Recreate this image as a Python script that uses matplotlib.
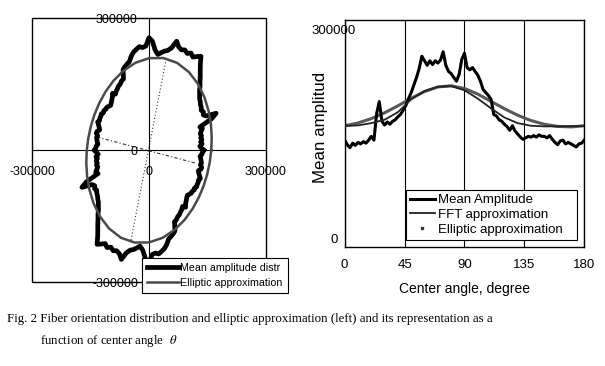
import numpy as np
import matplotlib
matplotlib.use('Agg')
import matplotlib.pyplot as plt
from matplotlib.lines import Line2D
from matplotlib.transforms import Bbox, TransformedBbox

plt.rcParams['font.family'] = 'Liberation Sans'
plt.rcParams['mathtext.fontset'] = 'stix'

# Mean amplitude, read every 2 degrees (0..180)
angle_deg = np.arange(0, 181, 2)
mean_amp = [141000, 135000, 131000, 137000, 134000, 138000, 136000, 139000, 137000, 141000,
            146000, 141000, 176000, 192000, 166000, 161000, 165000, 162000, 166000, 168000,
            172000, 175000, 181000, 187000, 196000, 204000, 214000, 224000, 236000, 252000,
            246000, 240000, 246000, 241000, 246000, 243000, 247000, 258000, 240000, 232000,
            229000, 224000, 219000, 228000, 248000, 256000, 237000, 234000, 237000, 232000,
            227000, 219000, 208000, 204000, 200000, 195000, 175000, 173000, 168000, 166000,
            162000, 159000, 154000, 160000, 153000, 149000, 145000, 142000, 144000, 146000,
            145000, 147000, 145000, 148000, 146000, 146000, 144000, 147000, 142000, 138000,
            135000, 140000, 141000, 136000, 138000, 136000, 134000, 132000, 136000, 137000,
            141000]

# smooth approximations, read every 10 degrees
fit_deg = np.arange(0, 181, 10)
fft_amp = [159700, 160500, 163500, 168000, 178000, 195000, 206000, 211500, 212500, 207000,
           196000, 183000, 171000, 163500, 160000, 159200, 159200, 159500, 159700]
ellipse_amp = [160000, 163700, 169500, 177200, 186400, 196300, 205300, 211400, 212900, 209400,
               201900, 192300, 182600, 173900, 166900, 162000, 159200, 158500, 160000]

# ellipse axes drawn as dotted lines on the polar view
major_x = [-46300, 44300]
major_y = [-204000, 208300]
minor_x = [-133700, 120800]
minor_y = [30200, -29500]

polar_ticks = [-300000, 0, 300000]
polar_labels = ['-300000', '0', '300000']
angle_ticks = [0, 45, 90, 135, 180]

fig = plt.figure(figsize=(6.05, 3.66), dpi=100)

# ---- left: polar distribution drawn in x/y ----
ax1 = fig.add_axes([0.0534, 0.2287, 0.3858, 0.7213])
th = np.radians(np.concatenate([angle_deg, angle_deg[1:] + 180]))
r = np.concatenate([mean_amp, mean_amp[1:]])
ax1.plot(r * np.cos(th), r * np.sin(th), color='black', lw=3.4,
         label='Mean amplitude distr', zorder=3)
th_e = np.radians(np.concatenate([fit_deg, fit_deg[1:] + 180]))
r_e = np.concatenate([ellipse_amp, ellipse_amp[1:]])
ax1.plot(r_e * np.cos(th_e), r_e * np.sin(th_e), color='#4a4a4a', lw=1.8,
         label='Elliptic approximation', zorder=4)
ax1.plot(major_x, major_y, color='#333333', lw=0.8, ls=(0, (1, 2)), zorder=2)
ax1.plot(minor_x, minor_y, color='#333333', lw=0.8, ls=(0, (3, 2, 1, 2)), zorder=2)
ax1.set_xlim(-300000, 300000)
ax1.set_ylim(-300000, 300000)
ax1.spines['left'].set_position('zero')
ax1.spines['bottom'].set_position('zero')
ax1.spines['top'].set_visible(False)
ax1.spines['right'].set_visible(False)
ax1.patch.set_edgecolor('black')
ax1.patch.set_linewidth(1.0)
ax1.set_xticks(polar_ticks)
ax1.set_xticklabels(polar_labels)
ax1.set_yticks(polar_ticks)
ax1.set_yticklabels(polar_labels)
ax1.tick_params(axis='x', length=0, pad=11, labelsize=9)
ax1.tick_params(axis='y', length=0, pad=8, labelsize=9)
leg1 = ax1.legend(loc='upper left', bbox_to_anchor=(0.2342, 0.194, 0.2423, 0.1003),
                  bbox_transform=fig.transFigure, mode='expand', borderaxespad=0,
                  fancybox=False, edgecolor='black', framealpha=1, fontsize=7.7,
                  handlelength=3.0, handletextpad=0.1, labelspacing=0.45, borderpad=0.45)
leg1.get_frame().set_linewidth(0.8)

# ---- right: amplitude vs center angle ----
ax2 = fig.add_axes([0.5697, 0.3260, 0.396, 0.6194])
ax2.plot(angle_deg, mean_amp, color='black', lw=2.2, zorder=3)
ax2.plot(fit_deg, fft_amp, color='#222222', lw=1.3, zorder=4)
ax2.plot(fit_deg, ellipse_amp, color='#585858', lw=2.2, zorder=2)
ax2.set_xlim(0, 180)
ax2.set_ylim(0, 300000)
ax2.set_xticks(angle_ticks)
ax2.set_yticks([])
ax2.grid(axis='x', color='black', lw=0.8)
ax2.tick_params(axis='x', length=0, pad=9, labelsize=9.5)
for sp in ax2.spines.values():
    sp.set_linewidth(1.0)
ax2.annotate('300000', xy=(0, 300000), xycoords=('axes fraction', 'data'),
             xytext=(-7.7, -7.9), textcoords='offset points', ha='center', va='center', fontsize=9.5)
ax2.annotate('0', xy=(0, 0), xycoords=('axes fraction', 'data'),
             xytext=(-7.7, 4.8), textcoords='offset points', ha='center', va='center', fontsize=9.5)
ax2.set_xlabel('Center angle, degree', fontsize=10, labelpad=8)

# y title is cut off at the top in the original
ylab = fig.text(320 / 605, 1 - 183 / 366, 'Mean amplitude', rotation=90,
                ha='center', va='bottom', fontsize=12.2, clip_on=True)
ylab.set_clip_box(TransformedBbox(Bbox([[0, 0], [1, 1 - 72 / 366]]), fig.transFigure))

handles = [Line2D([], [], color='black', lw=2.2),
           Line2D([], [], color='#222222', lw=1.3),
           Line2D([], [], color='#333333', ls='none', marker='s', ms=2)]
leg2 = ax2.legend(handles, ['Mean Amplitude', 'FFT approximation', 'Elliptic approximation'],
                  loc='upper left', bbox_to_anchor=(0.671, 0.3388, 0.2826, 0.142),
                  bbox_transform=fig.transFigure, mode='expand', borderaxespad=0,
                  fancybox=False, edgecolor='black', framealpha=1, fontsize=9.5,
                  handlelength=1.9, handletextpad=0.2, labelspacing=0.2, borderpad=0.3)
leg2.get_frame().set_linewidth(0.8)

# ---- caption ----
fig.text(7 / 605, 1 - 319 / 366,
         'Fig. 2 Fiber orientation distribution and elliptic approximation (left) and its representation as a',
         family='Liberation Serif', fontsize=9.25, va='center')
fig.text(40 / 605, 1 - 341 / 366, r'function of center angle  $\theta$',
         family='Liberation Serif', fontsize=9.25, va='center')

fig.savefig('out.png', dpi=100)
